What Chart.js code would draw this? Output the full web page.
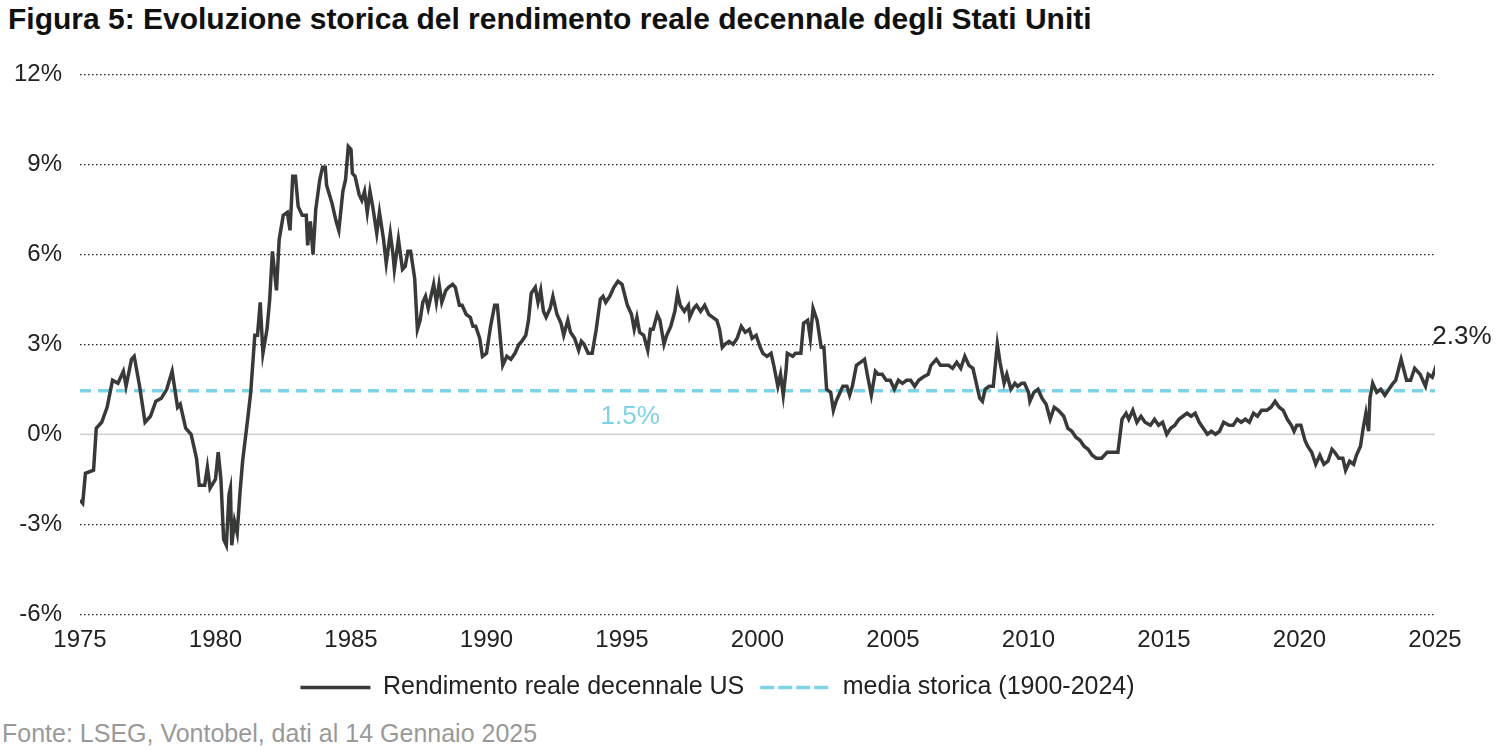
<!DOCTYPE html>
<html><head><meta charset="utf-8">
<script src="https://cdn.jsdelivr.net/npm/chart.js@4"></script>
<style>
body{margin:0;background:#fff;font-family:"Liberation Sans",Arial,sans-serif;}
#t{position:absolute;left:8px;top:2px;font-size:30px;font-weight:bold;color:#111;white-space:nowrap;}
#s{position:absolute;left:2px;top:719px;font-size:25px;color:#999;white-space:nowrap;}
#w{position:absolute;left:0;top:42px;width:1500px;height:668px;}
</style></head><body>
<div id="t">Figura 5: Evoluzione storica del rendimento reale decennale degli Stati Uniti</div>
<div id="w"><canvas id="c"></canvas></div>
<div id="s">Fonte: LSEG, Vontobel, dati al 14 Gennaio 2025</div>
<script>
const years=[1975.0,1975.1,1975.2,1975.5,1975.6,1975.8,1976.0,1976.2,1976.4,1976.6,1976.7,1976.9,1977.0,1977.2,1977.4,1977.6,1977.8,1978.0,1978.2,1978.4,1978.6,1978.7,1978.9,1979.1,1979.3,1979.4,1979.6,1979.7,1979.8,1980.0,1980.1,1980.2,1980.3,1980.4,1980.5,1980.55,1980.6,1980.7,1980.8,1980.9,1981.0,1981.2,1981.3,1981.45,1981.55,1981.65,1981.75,1981.9,1982.0,1982.1,1982.25,1982.35,1982.5,1982.65,1982.75,1982.85,1982.95,1983.05,1983.2,1983.35,1983.4,1983.5,1983.6,1983.7,1983.85,1983.95,1984.05,1984.1,1984.3,1984.45,1984.55,1984.7,1984.8,1984.9,1985.0,1985.05,1985.15,1985.3,1985.4,1985.5,1985.6,1985.7,1985.8,1985.95,1986.05,1986.2,1986.3,1986.45,1986.55,1986.6,1986.75,1986.9,1987.0,1987.1,1987.2,1987.35,1987.45,1987.55,1987.65,1987.75,1987.85,1987.95,1988.05,1988.15,1988.25,1988.35,1988.5,1988.6,1988.75,1988.85,1989.0,1989.1,1989.25,1989.4,1989.5,1989.6,1989.75,1989.85,1990.0,1990.15,1990.3,1990.4,1990.5,1990.6,1990.75,1990.9,1991.05,1991.2,1991.3,1991.45,1991.55,1991.65,1991.8,1991.9,1992.0,1992.1,1992.2,1992.35,1992.45,1992.6,1992.75,1992.85,1993.0,1993.1,1993.25,1993.4,1993.5,1993.6,1993.75,1993.9,1994.05,1994.2,1994.3,1994.4,1994.55,1994.7,1994.85,1995.0,1995.2,1995.35,1995.45,1995.55,1995.65,1995.8,1995.95,1996.05,1996.15,1996.3,1996.4,1996.55,1996.65,1996.8,1996.95,1997.05,1997.15,1997.3,1997.45,1997.5,1997.65,1997.75,1997.9,1998.05,1998.2,1998.35,1998.5,1998.6,1998.7,1998.8,1998.95,1999.1,1999.25,1999.4,1999.55,1999.7,1999.8,1999.95,2000.1,2000.2,2000.35,2000.5,2000.6,2000.75,2000.85,2000.95,2001.05,2001.1,2001.3,2001.4,2001.6,2001.7,2001.85,2001.95,2002.05,2002.2,2002.35,2002.45,2002.55,2002.7,2002.8,2002.9,2003.0,2003.15,2003.3,2003.4,2003.5,2003.65,2003.8,2003.95,2004.05,2004.2,2004.35,2004.45,2004.6,2004.75,2004.9,2005.05,2005.2,2005.35,2005.5,2005.65,2005.8,2005.95,2006.1,2006.3,2006.4,2006.6,2006.75,2006.9,2007.05,2007.2,2007.35,2007.5,2007.65,2007.8,2007.95,2008.1,2008.2,2008.3,2008.4,2008.55,2008.7,2008.85,2008.95,2009.1,2009.2,2009.35,2009.5,2009.6,2009.75,2009.85,2010.0,2010.05,2010.2,2010.35,2010.5,2010.65,2010.8,2010.95,2011.1,2011.3,2011.45,2011.6,2011.75,2011.9,2012.05,2012.2,2012.35,2012.5,2012.7,2012.9,2013.1,2013.3,2013.45,2013.6,2013.7,2013.85,2014.0,2014.15,2014.3,2014.5,2014.65,2014.8,2014.95,2015.1,2015.25,2015.4,2015.55,2015.7,2015.85,2016.0,2016.15,2016.3,2016.45,2016.6,2016.75,2016.9,2017.05,2017.2,2017.4,2017.55,2017.7,2017.85,2018.0,2018.15,2018.3,2018.45,2018.6,2018.8,2018.95,2019.1,2019.25,2019.4,2019.55,2019.7,2019.8,2019.9,2020.05,2020.2,2020.3,2020.45,2020.6,2020.75,2020.9,2021.05,2021.2,2021.3,2021.45,2021.6,2021.7,2021.85,2022.0,2022.1,2022.25,2022.35,2022.45,2022.55,2022.6,2022.7,2022.85,2023.0,2023.15,2023.3,2023.45,2023.55,2023.75,2023.95,2024.1,2024.25,2024.45,2024.65,2024.75,2024.9,2025.05];
const realYield=[-2.2,-2.3,-1.3,-1.2,0.2,0.4,0.9,1.8,1.7,2.1,1.6,2.5,2.6,1.6,0.4,0.6,1.1,1.2,1.5,2.1,0.9,1.0,0.2,0.0,-0.8,-1.7,-1.7,-1.1,-1.8,-1.5,-0.6,-1.5,-3.5,-3.7,-2.0,-1.8,-3.7,-2.9,-3.3,-2.0,-0.9,0.6,1.4,3.3,3.3,4.4,2.7,3.5,4.5,6.1,4.8,6.5,7.3,7.4,6.8,8.6,8.6,7.6,7.3,7.3,6.3,7.1,6.0,7.5,8.5,8.9,8.9,8.3,7.7,7.1,6.8,8.1,8.5,9.6,9.5,8.7,8.6,8.0,7.8,8.1,7.4,8.1,7.6,6.7,7.4,6.5,5.7,6.7,6.0,5.5,6.5,5.5,5.6,6.1,6.1,5.2,3.5,3.8,4.4,4.6,4.2,4.6,5.0,4.4,5.0,4.4,4.8,4.9,5.0,4.9,4.3,4.3,4.0,3.9,3.6,3.6,3.2,2.6,2.7,3.6,4.3,4.3,3.3,2.3,2.6,2.5,2.7,3.0,3.1,3.3,3.8,4.7,4.9,4.4,4.8,4.1,3.9,4.2,4.6,4.0,3.7,3.3,3.8,3.4,3.2,2.8,3.1,3.0,2.7,2.7,3.5,4.5,4.6,4.4,4.6,4.9,5.1,5.0,4.3,4.0,3.5,3.9,3.4,3.3,2.8,3.5,3.5,4.0,3.8,3.0,3.3,3.6,4.1,4.7,4.3,4.1,4.3,3.9,4.2,4.3,4.1,4.3,4.0,3.9,3.8,3.5,2.9,3.0,3.1,3.0,3.2,3.6,3.4,3.5,3.2,3.3,2.9,2.7,2.6,2.7,2.3,1.6,2.0,1.3,2.1,2.7,2.6,2.7,2.7,3.7,3.8,3.2,4.2,3.8,2.9,2.9,1.5,1.4,0.8,1.1,1.3,1.6,1.6,1.3,1.6,2.3,2.4,2.5,2.0,1.3,2.1,2.0,2.0,1.8,1.8,1.5,1.8,1.7,1.8,1.8,1.6,1.8,1.9,2.0,2.3,2.5,2.3,2.3,2.3,2.2,2.4,2.2,2.6,2.3,2.2,1.6,1.2,1.1,1.5,1.6,1.6,3.0,2.4,1.7,2.0,1.5,1.7,1.6,1.7,1.7,1.4,1.1,1.4,1.5,1.2,1.0,0.5,0.9,0.8,0.6,0.2,0.1,-0.1,-0.2,-0.4,-0.5,-0.7,-0.8,-0.8,-0.6,-0.6,-0.6,0.5,0.7,0.5,0.8,0.4,0.6,0.4,0.3,0.5,0.3,0.4,0.0,0.2,0.3,0.5,0.6,0.7,0.6,0.7,0.4,0.2,0.0,0.1,0.0,0.1,0.4,0.3,0.3,0.5,0.4,0.5,0.4,0.7,0.6,0.8,0.8,0.9,1.1,0.9,0.8,0.5,0.3,0.1,0.3,0.3,-0.2,-0.4,-0.6,-1.0,-0.7,-1.0,-0.9,-0.5,-0.6,-0.8,-0.8,-1.2,-0.9,-1.0,-0.7,-0.4,0.2,0.7,0.1,1.2,1.7,1.4,1.5,1.3,1.5,1.7,1.8,2.5,1.8,1.8,2.2,2.0,1.6,2.0,1.9,2.3];
const historicalMean=1.45;
const meanLabel="1.5%", lastLabel="2.3%";
const yTicks=[-6,-3,0,3,6,9,12];
const xTicks=[1975,1980,1985,1990,1995,2000,2005,2010,2015,2020,2025];
const seriesNames=["Rendimento reale decennale US","media storica (1900-2024)"];
const FF='"Liberation Sans", Arial, sans-serif';

const zeroPlugin={id:'zero',beforeDatasetsDraw(ch){
  const {ctx,chartArea:a,scales:{y}}=ch;const py=y.getPixelForValue(0);
  ctx.save();ctx.strokeStyle='#fff';ctx.lineWidth=3;ctx.beginPath();ctx.moveTo(a.left,py);ctx.lineTo(a.right,py);ctx.stroke();
  ctx.strokeStyle='#d0d0d0';ctx.lineWidth=1.5;ctx.beginPath();ctx.moveTo(a.left,py);ctx.lineTo(a.right,py);ctx.stroke();ctx.restore();}};
const labelsPlugin={id:'lbl',afterDatasetsDraw(ch){
  const {ctx,scales:{x,y}}=ch;ctx.save();
  ctx.font='26px '+FF;ctx.textAlign='center';ctx.textBaseline='middle';
  ctx.fillStyle='#7dd3e6';ctx.fillText(meanLabel,x.getPixelForValue(1995.3),y.getPixelForValue(0.57));
  ctx.fillStyle='#222';ctx.fillText(lastLabel,x.getPixelForValue(2025)+27,y.getPixelForValue(3.25));
  ctx.restore();}};

new Chart(document.getElementById('c'),{
  type:'line',
  data:{datasets:[
    {label:seriesNames[0],data:years.map((v,i)=>({x:v,y:realYield[i]})),borderColor:'#383a38',borderWidth:3.5,pointRadius:0,tension:0},
    {label:seriesNames[1],data:[{x:1975,y:historicalMean},{x:2025,y:historicalMean}],borderColor:'#7dd3e6',borderWidth:3.5,borderDash:[11,7],pointRadius:0}
  ]},
  options:{responsive:true,maintainAspectRatio:false,animation:false,
    layout:{padding:{top:14,right:65,left:0,bottom:0}},
    plugins:{title:{display:false},tooltip:{enabled:false},
      legend:{position:'bottom',labels:{font:{size:25,family:FF},color:'#222',boxWidth:70,boxHeight:0,padding:16,
        generateLabels(ch){return ch.data.datasets.map((d,i)=>({text:d.label,strokeStyle:d.borderColor,fillStyle:d.borderColor,lineWidth:3.5,lineDash:d.borderDash||[],datasetIndex:i,fontColor:'#222'}));}}}},
    scales:{
      x:{type:'linear',min:1975,max:2025,afterBuildTicks(s){s.ticks=xTicks.map(v=>({value:v}));},
        grid:{display:false},border:{display:false},
        ticks:{font:{size:24,family:FF},color:'#222',maxRotation:0,padding:4,callback:v=>String(v)}},
      y:{min:-6,max:12,afterBuildTicks(s){s.ticks=yTicks.map(v=>({value:v}));},afterFit(s){s.width=80;},
        border:{display:false,dash:[1.5,2.5]},
        grid:{color:'#222',lineWidth:1.2,drawTicks:false},
        ticks:{font:{size:24,family:FF},color:'#222',padding:18,callback:v=>v+'%'}}
    }},
  plugins:[zeroPlugin,labelsPlugin]
});
</script></body></html>
